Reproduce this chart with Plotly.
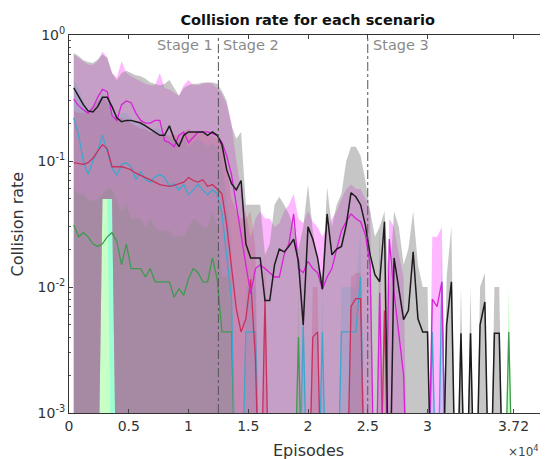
import plotly.graph_objects as go

# ---------------- data (episode grid, collision rates) ----------------
episodes = list(range(400, 37201, 400))

black = [0.38,0.33,0.28,0.25,0.245,0.27,0.32,0.32,0.27,0.22,
         0.205,0.21,0.21,0.205,0.2,0.19,0.18,0.17,0.16,0.16,
         0.19,0.15,0.13,0.16,0.17,0.17,0.17,0.17,0.16,0.17,
         0.16,0.135,0.085,0.066,0.059,0.07,0.022,0.017,0.017,0.017,
         0.0078,0.0078,0.015,0.02,0.019,0.021,0.024,0.016,0.005,0.03,
         0.024,0.017,0.0096,0.038,0.018,0.02,0.021,0.031,0.056,0.052,
         0.045,0.031,0.018,0.0125,0.011,0.033,0,0.017,0.0097,0.0055,
         0.0065,0.019,0.0056,0.0044,0.0044,0,0,0,0.005,0.011,
         0,0.0043,0,0.0043,0,0.005,0.0076,0,0.0043,0.0043,
         0,0,0]
magenta = [0.31,0.275,0.255,0.24,0.265,0.32,0.37,0.355,0.23,0.21,
           0.28,0.3,0.29,0.24,0.21,0.2,0.2,0.21,0.21,0.145,
           0.14,0.13,0.16,0.17,0.14,0.155,0.17,0.17,0.17,0.165,
           0.16,0.14,0.11,0.078,0.043,0.026,0.015,0.0088,0.014,0.015,
           0.014,0.013,0.012,0.012,0.018,0.022,0.038,0.014,0.013,0.016,
           0.014,0.013,0.0096,0.012,0.014,0.02,0.028,0.033,0.038,0.035,
           0.033,0.026,0.015,0,0.009,0,0.024,0.009,0.004,0.002,
           0,0,0,0,0,0.008,0.007,0.011,0,0,
           0,0,0,0,0,0,0,0,0,0,
           0,0,0]
crimson = [0.097,0.095,0.094,0.097,0.105,0.12,0.135,0.125,0.09,0.09,
           0.09,0.088,0.085,0.08,0.077,0.074,0.071,0.068,0.065,0.064,
           0.063,0.064,0.066,0.068,0.074,0.07,0.068,0.071,0.063,0.065,
           0.06,0.055,0.031,0.014,0.0067,0.0044,0.0056,0.0115,0.0027,0,
           0.008,0,0,0,0,0,0,0,0,0,
           0.004,0.0044,0,0,0,0,0,0,0.007,0.0081,
           0.0081,0,0,0,0,0.0065,0,0,0,0,
           0,0,0,0,0,0,0,0,0,0,
           0,0,0,0,0,0,0,0,0,0,
           0,0,0]
blue = [0.22,0.16,0.1,0.078,0.1,0.12,0.16,0.12,0.088,0.077,
        0.094,0.097,0.09,0.071,0.083,0.071,0.068,0.075,0.078,0.074,
        0.063,0.066,0.059,0.065,0.054,0.059,0.065,0.059,0.054,0.059,
        0.055,0.038,0.017,0.008,0,0,0.0044,0.0044,0.0044,0,
        0,0,0,0,0,0,0,0,0.005,0,
        0,0,0.0044,0,0,0,0.0044,0.0044,0.0044,0.0044,
        0.012,0,0,0,0,0,0,0,0,0,
        0,0,0,0,0,0.0044,0,0.011,0,0,
        0,0,0,0,0,0,0,0,0,0,
        0,0,0]
green = [0.031,0.025,0.027,0.025,0.022,0.021,0.022,0.025,0.027,0.023,
         0.015,0.022,0.014,0.014,0.014,0.012,0.014,0.011,0.011,0.011,
         0.011,0.0083,0.0097,0.0086,0.0116,0.014,0.013,0.011,0.011,0.017,
         0.0116,0.0044,0.0044,0.0044,0,0,0,0,0,0,
         0,0,0,0,0,0,0,0.004,0,0,
         0,0,0,0,0,0,0,0,0,0,
         0,0,0,0,0,0,0,0,0,0,
         0,0,0,0,0,0,0,0,0,0,
         0,0,0,0,0,0,0,0,0,0,
         0,0.0044,0]

# upper / lower edges of the shaded spread for each scenario
black_up = [0.72,0.68,0.63,0.61,0.6,0.64,0.7,0.66,0.5,0.44,
            0.5,0.52,0.5,0.48,0.47,0.45,0.42,0.41,0.4,0.41,
            0.44,0.38,0.33,0.38,0.4,0.41,0.41,0.42,0.42,0.42,
            0.41,0.36,0.3,0.19,0.15,0.17,0.045,0.045,0.045,0.045,
            0.018,0.022,0.045,0.052,0.045,0.038,0.03,0.02,0.03,0.065,
            0.028,0.015,0.012,0.062,0.03,0.045,0.055,0.1,0.13,0.13,
            0.11,0.07,0.04,0.025,0.03,0.04,0.01,0.04,0.03,0.015,
            0.02,0.04,0.015,0.01,0.01,0,0,0,0.012,0.03,
            0,0.01,0,0.01,0,0.01,0.013,0,0.01,0.01,
            0,0,0]
magenta_up = [0.7,0.66,0.62,0.58,0.58,0.62,0.74,0.66,0.5,0.46,
              0.62,0.5,0.47,0.45,0.43,0.41,0.4,0.4,0.5,0.38,
              0.37,0.35,0.33,0.4,0.44,0.4,0.4,0.41,0.42,0.41,
              0.38,0.34,0.28,0.2,0.1,0.06,0.04,0.025,0.035,0.04,
              0.035,0.035,0.03,0.032,0.04,0.045,0.055,0.035,0.032,0.04,
              0.033,0.03,0.025,0.03,0.035,0.04,0.05,0.06,0.065,0.06,
              0.06,0.05,0.04,0,0.035,0,0.035,0.03,0.018,0.012,
              0,0,0,0,0,0.025,0.025,0.03,0,0,
              0,0,0,0,0,0,0,0,0,0,
              0,0,0]
crimson_up = [0.25,0.24,0.24,0.25,0.27,0.3,0.32,0.3,0.22,0.22,
              0.22,0.21,0.2,0.19,0.18,0.18,0.17,0.17,0.16,0.16,
              0.16,0.16,0.16,0.17,0.18,0.17,0.17,0.17,0.16,0.16,
              0.15,0.14,0.09,0.05,0.04,0.035,0.035,0.04,0.02,0,
              0.02,0,0,0,0,0,0,0,0,0,
              0.01,0.01,0,0,0,0,0,0,0.012,0.013,
              0.013,0,0,0,0,0.015,0,0,0,0,
              0,0,0,0,0,0,0,0,0,0,
              0,0,0,0,0,0,0,0,0,0,
              0,0,0]
blue_up = [0.45,0.38,0.3,0.25,0.28,0.3,0.35,0.3,0.25,0.22,
           0.24,0.24,0.22,0.19,0.2,0.18,0.17,0.18,0.18,0.17,
           0.15,0.15,0.14,0.15,0.13,0.14,0.15,0.14,0.13,0.14,
           0.13,0.1,0.05,0.025,0,0,0.01,0.01,0.01,0,
           0,0,0,0,0,0,0,0,0.012,0,
           0,0,0.01,0,0,0,0.01,0.01,0.01,0.01,
           0.03,0,0,0,0,0,0,0,0,0,
           0,0,0,0,0,0.01,0,0.025,0,0,
           0,0,0,0,0,0,0,0,0,0,
           0,0,0]
green_up = [0.06,0.055,0.055,0.05,0.048,0.05,0.055,0.06,0.06,0.05,
            0.04,0.045,0.035,0.035,0.035,0.03,0.035,0.03,0.028,0.028,
            0.028,0.025,0.026,0.025,0.03,0.035,0.033,0.03,0.03,0.04,
            0.03,0.012,0.012,0.012,0,0,0,0,0,0,
            0,0,0,0,0,0,0,0.01,0,0,
            0,0,0,0,0,0,0,0,0,0,
            0,0,0,0,0,0,0,0,0,0,
            0,0,0,0,0,0,0,0,0,0,
            0,0,0,0,0,0,0,0,0,0,
            0,0.01,0]
black_lo = [0,0,0,0,0,0,0.05,0.05,0.05,0,
            0,0,0,0,0,0,0,0,0,0,
            0,0,0,0,0,0,0,0,0,0,
            0,0,0,0,0,0,0,0,0,0,
            0,0,0,0,0,0,0,0,0,0,
            0,0,0,0,0,0,0,0,0,0,
            0,0,0,0,0,0,0,0,0,0,
            0,0,0,0,0,0,0,0,0,0,
            0,0,0,0,0,0,0,0,0,0,
            0,0,0]
magenta_lo = [0,0,0,0,0,0,0.05,0.05,0.05,0,
              0,0,0,0,0,0,0,0,0,0,
              0,0,0,0,0,0,0,0,0,0,
              0,0,0,0,0,0,0,0,0,0,
              0,0,0,0,0,0,0,0,0,0,
              0,0,0,0,0,0,0,0,0,0,
              0,0,0,0,0,0,0,0,0,0,
              0,0,0,0,0,0,0,0,0,0,
              0,0,0,0,0,0,0,0,0,0,
              0,0,0]
crimson_lo = [0,0,0,0,0,0,0.05,0.05,0.05,0,
              0,0,0,0,0,0,0,0,0,0,
              0,0,0,0,0,0,0,0,0,0,
              0,0,0,0,0,0,0,0,0,0,
              0,0,0,0,0,0,0,0,0,0,
              0,0,0,0,0,0,0,0,0,0,
              0,0,0,0,0,0,0,0,0,0,
              0,0,0,0,0,0,0,0,0,0,
              0,0,0,0,0,0,0,0,0,0,
              0,0,0]
blue_lo = [0,0,0,0,0,0,0.05,0.05,0,0,
           0,0,0,0,0,0,0,0,0,0,
           0,0,0,0,0,0,0,0,0,0,
           0,0,0,0,0,0,0,0,0,0,
           0,0,0,0,0,0,0,0,0,0,
           0,0,0,0,0,0,0,0,0,0,
           0,0,0,0,0,0,0,0,0,0,
           0,0,0,0,0,0,0,0,0,0,
           0,0,0,0,0,0,0,0,0,0,
           0,0,0]
green_lo = [0,0,0,0,0,0,0,0,0,0,
            0,0,0,0,0,0,0,0,0,0,
            0,0,0,0,0,0,0,0,0,0,
            0,0,0,0,0,0,0,0,0,0,
            0,0,0,0,0,0,0,0,0,0,
            0,0,0,0,0,0,0,0,0,0,
            0,0,0,0,0,0,0,0,0,0,
            0,0,0,0,0,0,0,0,0,0,
            0,0,0,0,0,0,0,0,0,0,
            0,0,0]

stage_bounds = [12500, 25000]
stage_labels = ["Stage 1", "Stage 2", "Stage 3"]
xtick_vals = [0, 5000, 10000, 15000, 20000, 25000, 30000, 37200]
xtick_text = ["0", "0.5", "1", "1.5", "2", "2.5", "3", "3.72"]
ytick_vals = [0.001, 0.01, 0.1, 1]
ytick_text = ["10<sup>-3</sup>", "10<sup>-2</sup>", "10<sup>-1</sup>", "10<sup>0</sup>"]

FLOOR = 1e-4  # zero rates fall off the bottom of the log axis


def fl(a):
    return [v if v > 0 else FLOOR for v in a]


FONT = "DejaVu Sans"
fig = go.Figure()

bands = [
    (green_lo, green_up, "rgba(0,255,0,0.22)"),
    (blue_lo, blue_up, "rgba(0,255,255,0.22)"),
    (crimson_lo, crimson_up, "rgba(255,0,0,0.2)"),
    (magenta_lo, magenta_up, "rgba(255,0,255,0.28)"),
    (black_lo, black_up, "rgba(128,128,128,0.45)"),
]
for lo, up, col in bands:
    fig.add_trace(go.Scatter(x=episodes, y=fl(lo), mode="lines",
                             line=dict(width=0), hoverinfo="skip", showlegend=False))
    fig.add_trace(go.Scatter(x=episodes, y=fl(up), mode="lines", fill="tonexty",
                             fillcolor=col, line=dict(width=0), hoverinfo="skip",
                             showlegend=False))

lines = [
    (green, "#3f9a4f", 1.3),
    (blue, "#3fa6cc", 1.3),
    (crimson, "#c8305e", 1.3),
    (magenta, "#d722d7", 1.3),
    (black, "#1e1a1e", 1.5),
]
for vals, col, w in lines:
    fig.add_trace(go.Scatter(x=episodes, y=fl(vals), mode="lines",
                             line=dict(color=col, width=w), showlegend=False))

shapes = []
for b in stage_bounds:
    shapes.append(dict(type="line", xref="x", yref="paper", x0=b, x1=b, y0=0, y1=1,
                       line=dict(color="#555555", width=1, dash="dashdot"), layer="above"))

STAGE_FONT = dict(family=FONT, size=14.5, color="#8a8a8a")
annotations = [
    dict(x=stage_bounds[0], y=1, xref="x", yref="paper", text=stage_labels[0],
         xanchor="right", yanchor="top", xshift=-3, yshift=0, showarrow=False,
         font=STAGE_FONT),
    dict(x=stage_bounds[0], y=1, xref="x", yref="paper", text=stage_labels[1],
         xanchor="left", yanchor="top", xshift=3, yshift=0, showarrow=False,
         font=STAGE_FONT),
    dict(x=stage_bounds[1], y=1, xref="x", yref="paper", text=stage_labels[2],
         xanchor="left", yanchor="top", xshift=3, yshift=0, showarrow=False,
         font=STAGE_FONT),
    dict(x=0.5, y=-0.098, xref="paper", yref="paper", text="Episodes",
         xanchor="center", yanchor="middle", showarrow=False,
         font=dict(family=FONT, size=16, color="#333333")),
    dict(x=-0.108, y=0.5, xref="paper", yref="paper", text="Collision rate",
         textangle=-90, xanchor="center", yanchor="middle", showarrow=False,
         font=dict(family=FONT, size=16, color="#333333")),
    dict(x=1.0, y=-0.1, xref="paper", yref="paper", text="×10<sup>4</sup>",
         xanchor="right", yanchor="middle", xshift=-6, showarrow=False,
         font=dict(family=FONT, size=12, color="#444444")),
]

minor_y = [m * 10 ** e for e in (-3, -2, -1) for m in range(2, 10)]

# the page body adds an 8px margin, so the figure is sized to fill the rest
fig.update_layout(
    width=540, height=451,
    margin=dict(l=61, r=1, t=27, b=46),
    paper_bgcolor="white", plot_bgcolor="white",
    title=dict(text="<b>Collision rate for each scenario</b>", x=0.555, xanchor="center",
               y=0.973, yanchor="middle",
               font=dict(family=FONT, size=14.5, color="#111111")),
    font=dict(family=FONT, size=13, color="#333333"),
    shapes=shapes, annotations=annotations,
    xaxis=dict(range=[0, 40000], tickvals=xtick_vals, ticktext=xtick_text,
               ticks="inside", ticklen=4, tickcolor="#444", showline=True,
               linecolor="#333", linewidth=1, mirror="ticks", showgrid=False,
               zeroline=False, automargin=False,
               tickfont=dict(family=FONT, size=14, color="#333")),
    yaxis=dict(type="log", range=[-3, 0], tickvals=ytick_vals, ticktext=ytick_text,
               ticks="inside", ticklen=4, tickcolor="#444", showline=True,
               linecolor="#333", linewidth=1, mirror="ticks", showgrid=False,
               zeroline=False, automargin=False,
               tickfont=dict(family=FONT, size=14, color="#333"),
               minor=dict(tickvals=minor_y, ticks="inside", ticklen=2,
                          tickcolor="#555", showgrid=False)),
)

fig.write_html("out.html")
